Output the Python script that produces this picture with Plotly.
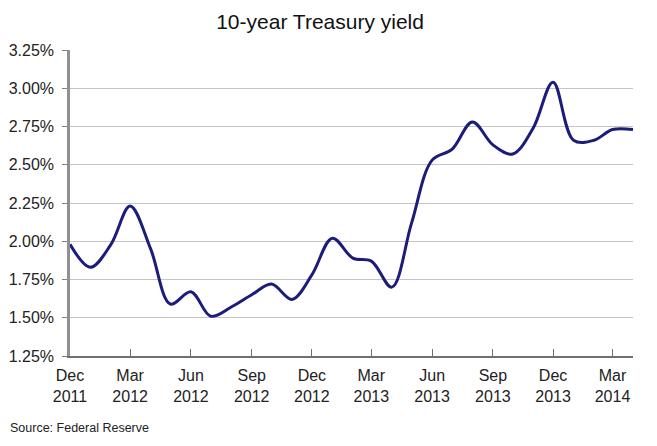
import plotly.graph_objects as go

# end-of-month 10y yield
months = [
    "2011-12-01", "2012-01-01", "2012-02-01", "2012-03-01", "2012-04-01",
    "2012-05-01", "2012-06-01", "2012-07-01", "2012-08-01", "2012-09-01",
    "2012-10-01", "2012-11-01", "2012-12-01", "2013-01-01", "2013-02-01",
    "2013-03-01", "2013-04-01", "2013-05-01", "2013-06-01", "2013-07-01",
    "2013-08-01", "2013-09-01", "2013-10-01", "2013-11-01", "2013-12-01",
    "2014-01-01", "2014-02-01", "2014-03-01", "2014-04-01",
]
yield_pct = [
    1.98, 1.83, 1.98, 2.23, 1.95,
    1.59, 1.67, 1.51, 1.57, 1.65,
    1.72, 1.62, 1.78, 2.02, 1.89,
    1.87, 1.70, 2.12, 2.53, 2.60,
    2.78, 2.63, 2.57, 2.74, 3.04,
    2.66, 2.66, 2.73, 2.73,
]

tick_dates = ["2011-12-01", "2012-03-01", "2012-06-01", "2012-09-01", "2012-12-01",
              "2013-03-01", "2013-06-01", "2013-09-01", "2013-12-01", "2014-03-01"]
tick_text = ["Dec<br>2011", "Mar<br>2012", "Jun<br>2012", "Sep<br>2012", "Dec<br>2012",
             "Mar<br>2013", "Jun<br>2013", "Sep<br>2013", "Dec<br>2013", "Mar<br>2014"]
y_ticks = [1.25, 1.50, 1.75, 2.00, 2.25, 2.50, 2.75, 3.00, 3.25]

FONT = "Liberation Sans, Arial, sans-serif"

fig = go.Figure()
fig.add_trace(go.Scatter(
    x=months, y=yield_pct, mode="lines",
    line=dict(color="#1c1c7a", width=3, shape="spline", smoothing=1.0),
    showlegend=False,
))

# page body adds an 8px offset, margins allow for it
fig.update_layout(
    width=657, height=446,
    margin=dict(l=62, r=32, t=42, b=98),
    paper_bgcolor="white", plot_bgcolor="white",
    font=dict(family=FONT, size=15, color="#222222"),
    title=dict(text="10-year Treasury yield", x=0.475, xanchor="center",
               y=0.969, yanchor="middle", font=dict(size=21, color="#111111")),
)

fig.update_xaxes(
    type="date", range=["2011-12-01", "2014-04-01"],
    tickvals=tick_dates, ticktext=tick_text,
    ticks="inside", ticklen=7, tickcolor="#707070", tickwidth=1,
    showline=True, linecolor="#707070", linewidth=1.5,
    showgrid=False, zeroline=False,
    tickfont=dict(size=16), ticklabelstandoff=4, automargin=False,
)
fig.update_yaxes(
    range=[1.25, 3.25], tickvals=y_ticks,
    ticktext=[f"{v:.2f}%" for v in y_ticks],
    ticks="outside", ticklen=5, tickcolor="#808080",
    showline=True, linecolor="#909090", linewidth=2.5,
    showgrid=True, gridcolor="#c4c4c4", gridwidth=1,
    zeroline=False, tickfont=dict(size=16),
    ticklabelstandoff=5, automargin=False,
)

fig.add_annotation(
    text="Source: Federal Reserve", xref="paper", yref="paper",
    x=-0.110, y=-0.235, xanchor="left", yanchor="middle",
    showarrow=False, font=dict(size=12.5, color="#222222"),
)

fig.write_html("out.html")
